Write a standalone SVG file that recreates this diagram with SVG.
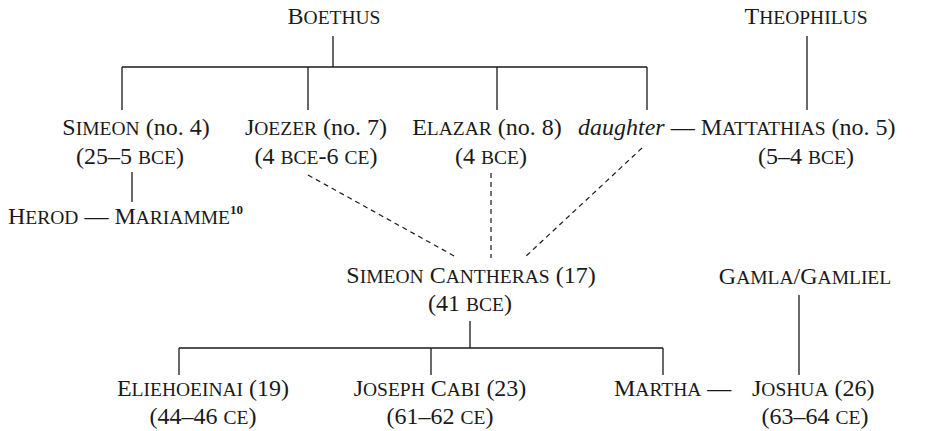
<svg xmlns="http://www.w3.org/2000/svg" width="934" height="431" viewBox="0 0 934 431">
  <style>
    .t { font-family: "Liberation Serif", "DejaVu Serif", serif; font-size: 24px; fill: #1a1a1a; }
    .m { text-anchor: middle; }
    .sc { font-size: 19.5px; }
    .i { font-style: italic; }
    .sup { font-size: 13px; font-weight: bold; }
    .ln { stroke: #1a1a1a; stroke-width: 1.3; fill: none; }
    .ds { stroke: #1a1a1a; stroke-width: 1.2; fill: none; stroke-dasharray: 5 4; }
  </style>
  <rect width="934" height="431" fill="#ffffff"/>

  <g id="connectors">
    <!-- Boethus and his children -->
    <path class="ln" d="M333 36 V67 M122 67 H647 M122 67 V110 M308 67 V110 M497 67 V110 M647 67 V110"/>
    <!-- Theophilus to Mattathias -->
    <path class="ln" d="M807 36 V110"/>
    <!-- Simeon to Mariamme -->
    <path class="ln" d="M132 172 V202"/>
    <!-- uncertain descent of Simeon Cantheras -->
    <path class="ds" d="M308 175 L456 257"/>
    <path class="ds" d="M491 173 V258"/>
    <path class="ds" d="M642 148 L524 258"/>
    <!-- Simeon Cantheras and his children -->
    <path class="ln" d="M470 321 V348 M179 348 H663 M179 348 V375 M431 348 V375 M663 348 V375"/>
    <!-- Gamla to Joshua -->
    <path class="ln" d="M799 295 V375"/>
  </g>

  <g id="boethus"><text class="t m" x="334" y="24">B<tspan class="sc">OETHUS</tspan></text></g>
  <g id="theophilus"><text class="t m" x="806" y="24">T<tspan class="sc">HEOPHILUS</tspan></text></g>

  <g id="simeon">
    <text class="t m" x="136" y="135">S<tspan class="sc">IMEON</tspan> (no. 4)</text>
    <text class="t m" x="130" y="164">(25–5 <tspan class="sc">BCE</tspan>)</text>
  </g>
  <g id="joezer">
    <text class="t m" x="316" y="135">J<tspan class="sc">OEZER</tspan> (no. 7)</text>
    <text class="t m" x="316" y="164">(4 <tspan class="sc">BCE</tspan>-6 <tspan class="sc">CE</tspan>)</text>
  </g>
  <g id="elazar">
    <text class="t m" x="487" y="135">E<tspan class="sc">LAZAR</tspan> (no. 8)</text>
    <text class="t m" x="491" y="164">(4 <tspan class="sc">BCE</tspan>)</text>
  </g>
  <g id="daughter-mattathias">
    <text class="t" x="578" y="135"><tspan class="i">daughter</tspan> — M<tspan class="sc">ATTATHIAS</tspan> (no. 5)</text>
    <text class="t m" x="806" y="164">(5–4 <tspan class="sc">BCE</tspan>)</text>
  </g>
  <g id="herod-mariamme">
    <text class="t" x="8" y="224">H<tspan class="sc">EROD</tspan> — M<tspan class="sc">ARIAMME</tspan><tspan class="sup" dy="-10">10</tspan></text>
  </g>
  <g id="simeon-cantheras">
    <text class="t m" x="471" y="283">S<tspan class="sc">IMEON</tspan> C<tspan class="sc">ANTHERAS</tspan> (17)</text>
    <text class="t m" x="470" y="311">(41 <tspan class="sc">BCE</tspan>)</text>
  </g>
  <g id="gamla">
    <text class="t m" x="805" y="284">G<tspan class="sc">AMLA</tspan>/G<tspan class="sc">AMLIEL</tspan></text>
  </g>
  <g id="eliehoeinai">
    <text class="t m" x="203" y="396">E<tspan class="sc">LIEHOEINAI</tspan> (19)</text>
    <text class="t m" x="203" y="424">(44–46 <tspan class="sc">CE</tspan>)</text>
  </g>
  <g id="joseph-cabi">
    <text class="t m" x="440" y="396">J<tspan class="sc">OSEPH</tspan> C<tspan class="sc">ABI</tspan> (23)</text>
    <text class="t m" x="440" y="424">(61–62 <tspan class="sc">CE</tspan>)</text>
  </g>
  <g id="martha-joshua">
    <text class="t" x="614" y="396">M<tspan class="sc">ARTHA</tspan> —</text>
    <text class="t" x="752" y="396">J<tspan class="sc">OSHUA</tspan> (26)</text>
    <text class="t m" x="815" y="424">(63–64 <tspan class="sc">CE</tspan>)</text>
  </g>
</svg>
